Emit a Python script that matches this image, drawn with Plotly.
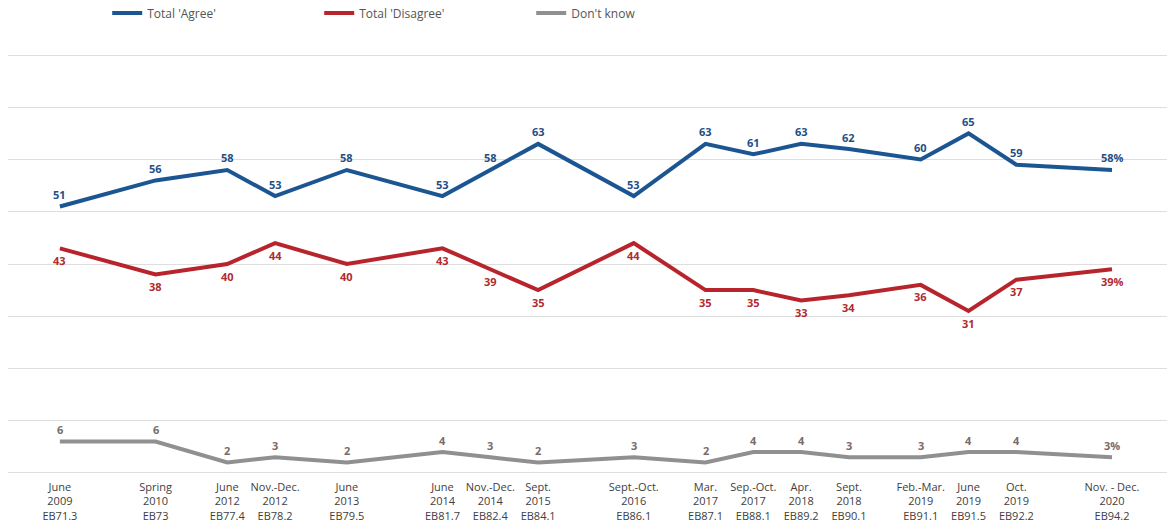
import plotly.graph_objects as go

waves = [
    "June<br>2009<br>EB71.3", "Spring<br>2010<br>EB73", "June<br>2012<br>EB77.4",
    "Nov.-Dec.<br>2012<br>EB78.2", "June<br>2013<br>EB79.5", "June<br>2014<br>EB81.7",
    "Nov.-Dec.<br>2014<br>EB82.4", "Sept.<br>2015<br>EB84.1", "Sept.-Oct.<br>2016<br>EB86.1",
    "Mar.<br>2017<br>EB87.1", "Sep.-Oct.<br>2017<br>EB88.1", "Apr.<br>2018<br>EB89.2",
    "Sept.<br>2018<br>EB90.1", "Feb.-Mar.<br>2019<br>EB91.1", "June<br>2019<br>EB91.5",
    "Oct.<br>2019<br>EB92.2", "Nov. - Dec.<br>2020<br>EB94.2",
]
# relative spacing of the survey waves along the axis
wave_slots = [0, 4, 7, 9, 12, 16, 18, 20, 24, 27, 29, 31, 33, 36, 38, 40, 44]

agree = [51, 56, 58, 53, 58, 53, 58, 63, 53, 63, 61, 63, 62, 60, 65, 59, 58]
disagree = [43, 38, 40, 44, 40, 43, 39, 35, 44, 35, 35, 33, 34, 36, 31, 37, 39]
dont_know = [6, 6, 2, 3, 2, 4, 3, 2, 3, 2, 4, 4, 3, 3, 4, 4, 3]


def labels(vals):
    return [str(v) + ("%" if i == len(vals) - 1 else "") for i, v in enumerate(vals)]


series = [
    ("Total 'Agree'", agree, "#1b5592", "#1f4f86", 12),
    ("Total 'Disagree'", disagree, "#b8242c", "#b12a30", -12),
    ("Don't know", dont_know, "#909090", "#7a6b6b", 12),
]

fig = go.Figure()
for name, vals, lc, tc, shift in series:
    fig.add_trace(go.Scatter(
        x=wave_slots, y=vals, name=name, mode="lines",
        line=dict(color=lc, width=4),
    ))
    for xv, yv, t in zip(wave_slots, vals, labels(vals)):
        fig.add_annotation(
            x=xv, y=yv, text=t, showarrow=False, yshift=shift,
            font=dict(family="Open Sans", size=11, color=tc, weight="bold"),
        )

fig.update_layout(
    width=1167, height=524,
    margin=dict(l=8, r=0, t=53, b=49, autoexpand=False),
    plot_bgcolor="white", paper_bgcolor="white",
    font=dict(family="Open Sans", size=11, color="#404040"),
    showlegend=True,
    legend=dict(orientation="h", x=0.0856, xanchor="left", y=1.0948, yanchor="middle",
                entrywidth=167, font=dict(size=12, color="#555555")),
    xaxis=dict(range=[-2.17, 46.3], tickvals=wave_slots, ticktext=waves,
               showgrid=False, zeroline=False, showline=False, ticks="",
               automargin=False, ticklabelstandoff=4,
               tickfont=dict(size=11, color="#404040")),
    yaxis=dict(range=[-0.4, 80.4], dtick=10, tick0=0, showticklabels=False,
               gridcolor="#dedede", gridwidth=1, zeroline=False,
               showline=False, automargin=False),
)

# remove the browser's default page margin so the figure fills the window
fig.write_html("out.html", config={"displayModeBar": False},
               post_script="document.body.style.margin='0';")
